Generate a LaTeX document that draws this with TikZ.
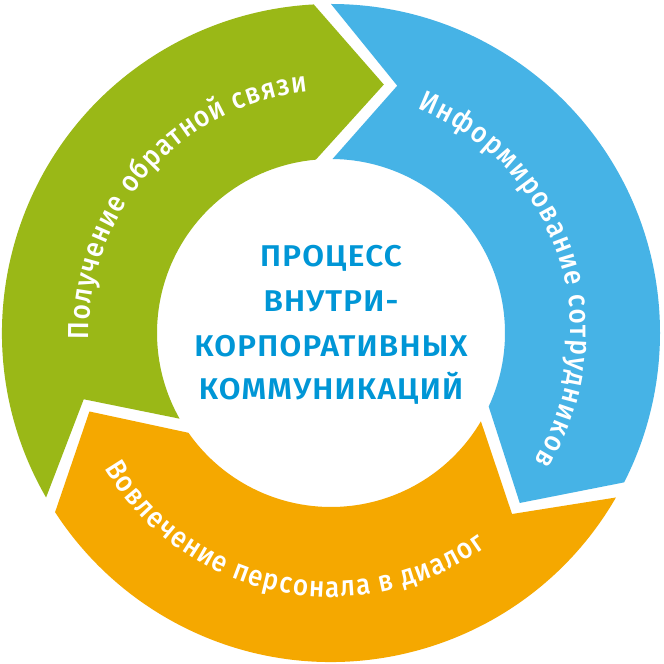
\documentclass[tikz,border=0pt]{standalone}
\usepackage{fontspec}
\setmainfont{Fira Sans}
\newfontfamily\medfont[FakeStretch=0.9]{Fira Sans Medium}
\newfontfamily\semifont[FakeStretch=1.05,LetterSpace=4]{Fira Sans SemiBold}
\usetikzlibrary{decorations.text}
\definecolor{cgreen}{RGB}{154,184,23}
\definecolor{cblue}{RGB}{70,179,230}
\definecolor{corange}{RGB}{245,168,0}
\definecolor{ctext}{RGB}{0,150,214}
\newcommand\arcfont{\medfont\fontsize{29}{30}\selectfont}
\begin{document}
\begin{tikzpicture}[x=1pt,y=1pt,
  arctext/.style={decorate, decoration={text along path, text color=white,
      text align=fit to path, text={#1}}},
  ctitle/.style={font=\semifont\fontsize{30}{30}\selectfont, text=ctext,
      inner sep=0pt, anchor=base}]
\useasboundingbox (0,0) rectangle (664,664);
\fill[white] (0,0) rectangle (664,664);
\begin{scope}[shift={(331pt,331pt)}]
  % green segment
  \fill[cgreen] (210:329pt) arc[start angle=210, end angle=93, radius=329pt]
    -- (78:254pt) -- (95:174pt) arc[start angle=95, end angle=209.5, radius=174pt]
    -- (195:256pt) -- cycle;
  % blue segment
  \fill[cblue] (90:329pt) arc[start angle=90, end angle=-27, radius=329pt]
    -- (-42:254pt) -- (-25:174pt) arc[start angle=-25, end angle=89.5, radius=174pt]
    -- (75:256pt) -- cycle;
  % orange segment
  \fill[corange] (-30:329pt) arc[start angle=-30, end angle=-147, radius=329pt]
    -- (-162:254pt) -- (-145:174pt) arc[start angle=-145, end angle=-30.5, radius=174pt]
    -- (-45:256pt) -- cycle;
  % arc texts
  \path[arctext={|\arcfont|Получение обратной связи}]
    (181.5:242pt) arc[start angle=181.5, end angle=95.5, radius=242pt];
  \path[arctext={|\arcfont|Информирование сотрудников}]
    (69:240pt) arc[start angle=69, end angle=-32.1, radius=240pt];
  \path[arctext={|\arcfont|Вовлечение персонала в диалог}]
    (210.8:264pt) arc[start angle=210.8, end angle=306, radius=264pt];
\end{scope}
\node[ctitle] (l1) at (331,397.3) {ПРОЦЕСС};
\node[ctitle] (l2) at (331,352.3) {ВНУТРИ-};
\node[ctitle] (l3) at (331,307.3) {КОРПОРАТИВНЫХ};
\node[ctitle] (l4) at (331,264) {КОММУНИКАЦИЙ};
\end{tikzpicture}
\end{document}
